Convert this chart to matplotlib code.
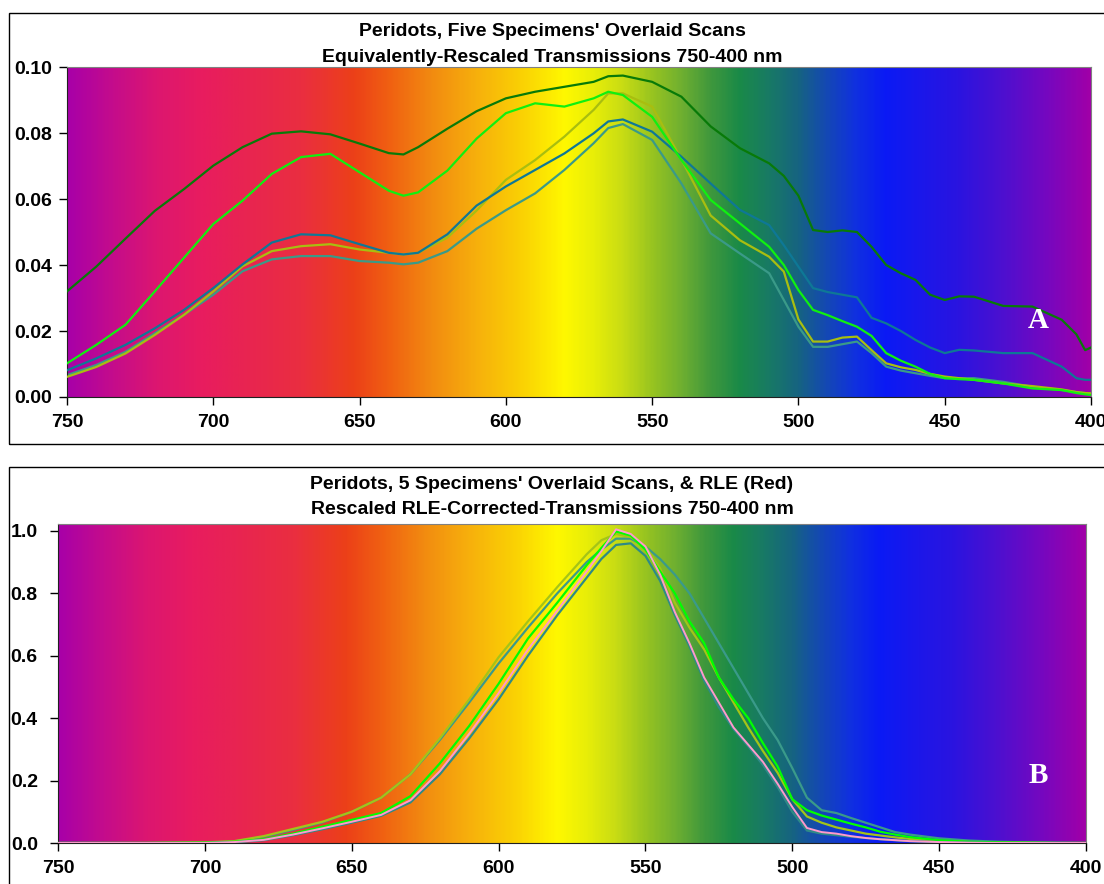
import numpy as np
import matplotlib
matplotlib.use("Agg")
import matplotlib.pyplot as plt
from matplotlib.colors import LinearSegmentedColormap
from matplotlib.patches import Rectangle

plt.rcParams['font.family'] = ['Liberation Sans', 'DejaVu Sans']
plt.rcParams['font.weight'] = 'bold'

# ---- panel A: equivalently rescaled transmissions ----
nm_a = [750, 740, 730, 720, 710, 700, 690, 680, 670, 660, 650, 640, 635, 630,
        620, 610, 600, 590, 580, 570, 565, 560, 550, 540, 530, 520, 510, 505,
        500, 495, 490, 485, 480, 475, 470, 465, 460, 455, 450, 445, 440, 430,
        420, 410, 405, 402, 400]

dark_green_a = [0.0320, 0.0395, 0.0480, 0.0564, 0.0630, 0.0701, 0.0757, 0.0798,
                0.0805, 0.0796, 0.0768, 0.0739, 0.0735, 0.0757, 0.0813, 0.0866,
                0.0905, 0.0925, 0.0940, 0.0955, 0.0972, 0.0974, 0.0955, 0.0910,
                0.0820, 0.0754, 0.0708, 0.0670, 0.0610, 0.0506, 0.0500, 0.0505,
                0.0500, 0.0455, 0.0400, 0.0375, 0.0355, 0.0310, 0.0294, 0.0305,
                0.0304, 0.0276, 0.0274, 0.0234, 0.0190, 0.0142, 0.0150]

bright_green_a = [0.0102, 0.0158, 0.0219, 0.0320, 0.0422, 0.0524, 0.0595, 0.0676,
                  0.0727, 0.0737, 0.0681, 0.0625, 0.0610, 0.0620, 0.0686, 0.0783,
                  0.0860, 0.0890, 0.0880, 0.0905, 0.0925, 0.0915, 0.0849, 0.0718,
                  0.0597, 0.0526, 0.0455, 0.0400, 0.0324, 0.0264, 0.0248, 0.0230,
                  0.0213, 0.0185, 0.0133, 0.0110, 0.0092, 0.0070, 0.0057, 0.0054,
                  0.0052, 0.0041, 0.0026, 0.0021, 0.0012, 0.0008, 0.0006]

teal_blue_a = [0.0081, 0.0117, 0.0158, 0.0208, 0.0264, 0.0330, 0.0402, 0.0468,
               0.0493, 0.0490, 0.0463, 0.0437, 0.0432, 0.0437, 0.0493, 0.0580,
               0.0638, 0.0688, 0.0738, 0.0799, 0.0835, 0.0841, 0.0804, 0.0728,
               0.0647, 0.0567, 0.0521, 0.0460, 0.0395, 0.0330, 0.0318, 0.0310,
               0.0302, 0.0240, 0.0223, 0.0200, 0.0173, 0.0150, 0.0133, 0.0143,
               0.0141, 0.0133, 0.0133, 0.0092, 0.0057, 0.0052, 0.0052]

olive_a = [0.0061, 0.0091, 0.0132, 0.0188, 0.0249, 0.0320, 0.0396, 0.0442,
           0.0457, 0.0463, 0.0447, 0.0437, 0.0432, 0.0437, 0.0483, 0.0565,
           0.0658, 0.0718, 0.0789, 0.0870, 0.0920, 0.0920, 0.0880, 0.0720,
           0.0550, 0.0475, 0.0425, 0.0380, 0.0235, 0.0168, 0.0168, 0.0180,
           0.0183, 0.0142, 0.0102, 0.0090, 0.0082, 0.0070, 0.0062, 0.0057,
           0.0052, 0.0041, 0.0033, 0.0023, 0.0015, 0.0012, 0.0011]

grey_teal_a = [0.0066, 0.0097, 0.0137, 0.0193, 0.0249, 0.0310, 0.0381, 0.0417,
               0.0427, 0.0427, 0.0412, 0.0407, 0.0402, 0.0407, 0.0442, 0.0510,
               0.0566, 0.0617, 0.0688, 0.0769, 0.0815, 0.0827, 0.0779, 0.0647,
               0.0496, 0.0435, 0.0375, 0.0294, 0.0213, 0.0152, 0.0152, 0.0160,
               0.0168, 0.0133, 0.0092, 0.0080, 0.0072, 0.0064, 0.0057, 0.0057,
               0.0057, 0.0046, 0.0031, 0.0021, 0.0015, 0.0012, 0.0011]

# ---- panel B: rescaled RLE-corrected transmissions ----
nm_b = [750, 720, 700, 690, 680, 670, 660, 650, 640, 630, 620, 610, 600, 590,
        580, 570, 565, 560, 555, 550, 545, 540, 535, 530, 525, 520, 515, 510,
        505, 500, 495, 490, 485, 480, 475, 470, 465, 460, 450, 440, 430, 420,
        410, 400]

yellow_green_b = [0.0, 0.0, 0.002, 0.006, 0.022, 0.045, 0.068, 0.100, 0.145, 0.220,
                  0.335, 0.460, 0.595, 0.710, 0.820, 0.925, 0.970, 0.990, 0.980,
                  0.950, 0.880, 0.770, 0.690, 0.620, 0.530, 0.450, 0.370, 0.295,
                  0.225, 0.140, 0.085, 0.065, 0.050, 0.040, 0.030, 0.024, 0.018,
                  0.013, 0.007, 0.003, 0.002, 0.001, 0.0, 0.0]

teal_b = [0.0, 0.0, 0.001, 0.005, 0.020, 0.042, 0.066, 0.100, 0.145, 0.220,
          0.330, 0.450, 0.575, 0.690, 0.800, 0.900, 0.940, 0.975, 0.975,
          0.950, 0.910, 0.860, 0.800, 0.720, 0.640, 0.560, 0.480, 0.400,
          0.330, 0.240, 0.145, 0.105, 0.096, 0.080, 0.065, 0.050, 0.035,
          0.027, 0.015, 0.008, 0.004, 0.002, 0.001, 0.0]

green_b = [0.0, 0.0, 0.001, 0.004, 0.012, 0.030, 0.052, 0.074, 0.096, 0.150,
           0.255, 0.375, 0.510, 0.655, 0.770, 0.890, 0.945, 0.998, 0.985,
           0.940, 0.870, 0.800, 0.710, 0.640, 0.530, 0.460, 0.400, 0.320,
           0.245, 0.140, 0.105, 0.088, 0.075, 0.062, 0.050, 0.036, 0.027,
           0.019, 0.009, 0.004, 0.002, 0.001, 0.0, 0.0]

dark_teal_b = [0.0, 0.0, 0.0, 0.002, 0.009, 0.025, 0.044, 0.065, 0.087, 0.130,
               0.220, 0.335, 0.460, 0.600, 0.730, 0.850, 0.910, 0.955, 0.960,
               0.920, 0.840, 0.730, 0.630, 0.520, 0.435, 0.365, 0.310, 0.250,
               0.180, 0.100, 0.040, 0.030, 0.025, 0.020, 0.016, 0.012, 0.009,
               0.006, 0.003, 0.001, 0.0, 0.0, 0.0, 0.0]

rle_b = [0.0, 0.0, 0.0, 0.003, 0.010, 0.027, 0.047, 0.068, 0.090, 0.137,
         0.230, 0.350, 0.480, 0.620, 0.745, 0.870, 0.935, 1.005, 0.990,
         0.950, 0.860, 0.740, 0.640, 0.530, 0.450, 0.370, 0.315, 0.260,
         0.190, 0.115, 0.048, 0.035, 0.030, 0.022, 0.016, 0.012, 0.009,
         0.006, 0.003, 0.001, 0.0, 0.0, 0.0, 0.0]

x_ticks = [750, 700, 650, 600, 550, 500, 450, 400]

# spectrum colours behind the traces (wavelength, colour)
spec_nm = [750, 735, 720, 705, 690, 670, 652, 640, 625, 610, 595, 580, 570, 560,
           550, 540, 530, 520, 510, 500, 490, 480, 470, 460, 445, 430, 415, 400]
spec_col = ['#A800A8', '#C40C8C', '#DC1670', '#E81C60', '#E82452', '#EA2E40',
            '#EC4018', '#F06012', '#F28C10', '#F7B00C', '#FAD004', '#FFF800',
            '#E8EE08', '#C8DC14', '#98C420', '#70B030', '#40983C', '#1A8A48',
            '#187A64', '#166480', '#1448B4', '#1030E0', '#0A1AF5', '#1818EC',
            '#2A14E0', '#4C10D0', '#7408C0', '#A000A8']

W, H = 1104, 884
fig = plt.figure(figsize=(W / 100, H / 100), dpi=100)

# chart-area frames (they run off the right / bottom edge like the original)
fig.patches.append(Rectangle((9 / W, 1 - 444 / H), 1.2, 431 / H, transform=fig.transFigure,
                             fill=False, edgecolor='black', lw=1.0))
fig.patches.append(Rectangle((9 / W, -0.2), 1.2, 0.2 + 1 - 467 / H, transform=fig.transFigure,
                             fill=False, edgecolor='black', lw=1.0))

pos = np.array(spec_nm, dtype=float)
pos = (750 - pos) / 350.0
cmap = LinearSegmentedColormap.from_list('spec', list(zip(pos, spec_col)), N=512)
grad = np.linspace(0, 1, 700).reshape(1, -1)


def style_axes(ax, ymax, yticks, yfmt, ypad):
    ax.imshow(grad, cmap=cmap, aspect='auto', extent=[750, 400, 0, ymax],
              interpolation='bilinear', zorder=0)
    ax.set_xlim(750, 400)
    ax.set_ylim(0, ymax)
    ax.set_xticks(x_ticks)
    ax.set_yticks(yticks)
    ax.set_yticklabels([yfmt.format(v) for v in yticks])
    ax.tick_params(axis='both', direction='out', length=6, width=1, colors='black',
                   labelsize=14)
    ax.tick_params(axis='y', pad=ypad)
    ax.tick_params(axis='x', pad=6)
    for lab in ax.get_xticklabels() + ax.get_yticklabels():
        lab.set_fontweight('bold')
    for s in ['top', 'right']:
        ax.spines[s].set_color('#808080')
    for s in ['left', 'bottom']:
        ax.spines[s].set_color('#202020')


# top panel
ax1 = fig.add_axes([67 / W, 1 - 397 / H, (1091 - 67) / W, 330 / H])
style_axes(ax1, 0.10, [0.0, 0.02, 0.04, 0.06, 0.08, 0.10], '{:.2f}', 5)
ax1.plot(nm_a, grey_teal_a, color='#3A9A88', lw=1.6, zorder=2)
ax1.plot(nm_a, olive_a, color='#A8BE10', lw=1.6, zorder=3)
ax1.plot(nm_a, teal_blue_a, color='#0E7896', lw=1.6, zorder=4)
ax1.plot(nm_a, bright_green_a, color='#10F010', lw=1.6, zorder=5)
ax1.plot(nm_a, dark_green_a, color='#087A08', lw=1.6, zorder=6)
ax1.text(418, 0.0233, 'A', color='white', fontsize=21, fontweight='bold',
         family='Liberation Serif', ha='center', va='center', zorder=7)

fig.text(0.5, 1 - 31 / H, "Peridots, Five Specimens' Overlaid Scans",
         ha='center', va='center', fontsize=14, fontweight='bold')
fig.text(0.5, 1 - 57 / H, "Equivalently-Rescaled Transmissions 750-400 nm",
         ha='center', va='center', fontsize=14, fontweight='bold')

# bottom panel
ax2 = fig.add_axes([58 / W, 1 - 843 / H, (1086 - 58) / W, 319 / H])
style_axes(ax2, 1.022, [0.0, 0.2, 0.4, 0.6, 0.8, 1.0], '{:.1f}', 8.5)
ax2.plot(nm_b, teal_b, color='#3A9A8A', lw=1.6, zorder=2)
ax2.plot(nm_b, yellow_green_b, color='#A4C418', lw=1.6, zorder=3)
ax2.plot(nm_b, green_b, color='#00FF00', lw=1.6, zorder=4)
ax2.plot(nm_b, dark_teal_b, color='#2E8A86', lw=1.6, zorder=5)
ax2.plot(nm_b, rle_b, color='#FF9ACC', lw=1.4, zorder=6)
ax2.text(416.3, 0.215, 'B', color='white', fontsize=21, fontweight='bold',
         family='Liberation Serif', ha='center', va='center', zorder=7)

fig.text(0.5, 1 - 484 / H, "Peridots, 5 Specimens' Overlaid Scans, & RLE (Red)",
         ha='center', va='center', fontsize=14, fontweight='bold')
fig.text(0.5, 1 - 510 / H, "Rescaled RLE-Corrected-Transmissions 750-400 nm",
         ha='center', va='center', fontsize=14, fontweight='bold')

fig.savefig('out.png', dpi=100)
